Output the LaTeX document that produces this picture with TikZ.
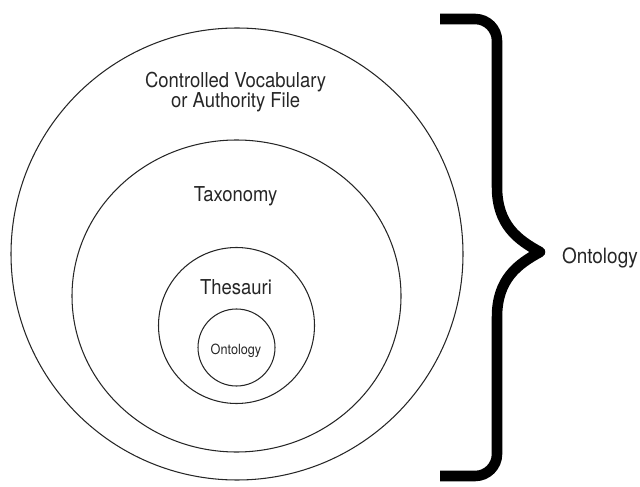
\documentclass[tikz,border=0pt]{standalone}
\usepackage{fontspec}
\setmainfont{TeX Gyre Heros}[FakeStretch=0.9]
\usetikzlibrary{shapes.geometric}

\begin{document}
\begin{tikzpicture}[scale=1,inner sep=0pt,outer sep=0pt,line width=0.75pt,
ring/.style={draw=black!85,circle,inner sep=0pt},
lbl/.style={text=black!85,font=\fontsize{14.6}{14.2}\selectfont,align=center},
brace/.style={line width=7.5pt,line cap=butt,line join=round}]
\useasboundingbox (0,0) rectangle (16,12.15);

\draw (5.925,5.8) node[ring,minimum size=11.3cm] (cv) {};
\draw (5.9125,4.75) node[ring,ellipse,minimum width=8.225cm,minimum height=7.8cm] (tax) {};
\draw (5.9125,4.0125) node[ring,minimum size=3.9cm] (thes) {};
\draw (5.9125,3.4625) node[ring,minimum size=1.925cm] (onto) {};

\draw (5.89,9.85) node[lbl] (cvtext) {Controlled Vocabulary\\or Authority File};
\draw (5.89,7.1) node[lbl,anchor=base] (taxtext) {Taxonomy};
\draw (5.9,4.8) node[lbl,anchor=base] (thestext) {Thesauri};
\draw (5.9,3.3) node[lbl,anchor=base,font=\fontsize{10}{11}\selectfont] (ontotext) {Ontology};

% curly brace round the whole
\draw[brace] (11.0,11.675) -- (11.875,11.675) arc[start angle=90,end angle=0,radius=0.55]
  -- (12.425,7.475) .. controls (12.425,6.525) and (12.95,6.15) .. (13.5,5.85)
  .. controls (12.95,5.55) and (12.425,5.175) .. (12.425,4.225)
  -- (12.425,0.8) arc[start angle=0,end angle=-90,radius=0.55] -- (11.0,0.25);
\draw (14.05,5.575) node[lbl,anchor=base west,font=\fontsize{15}{16}\selectfont] (ontolabel) {Ontology};
\end{tikzpicture}
\end{document}
